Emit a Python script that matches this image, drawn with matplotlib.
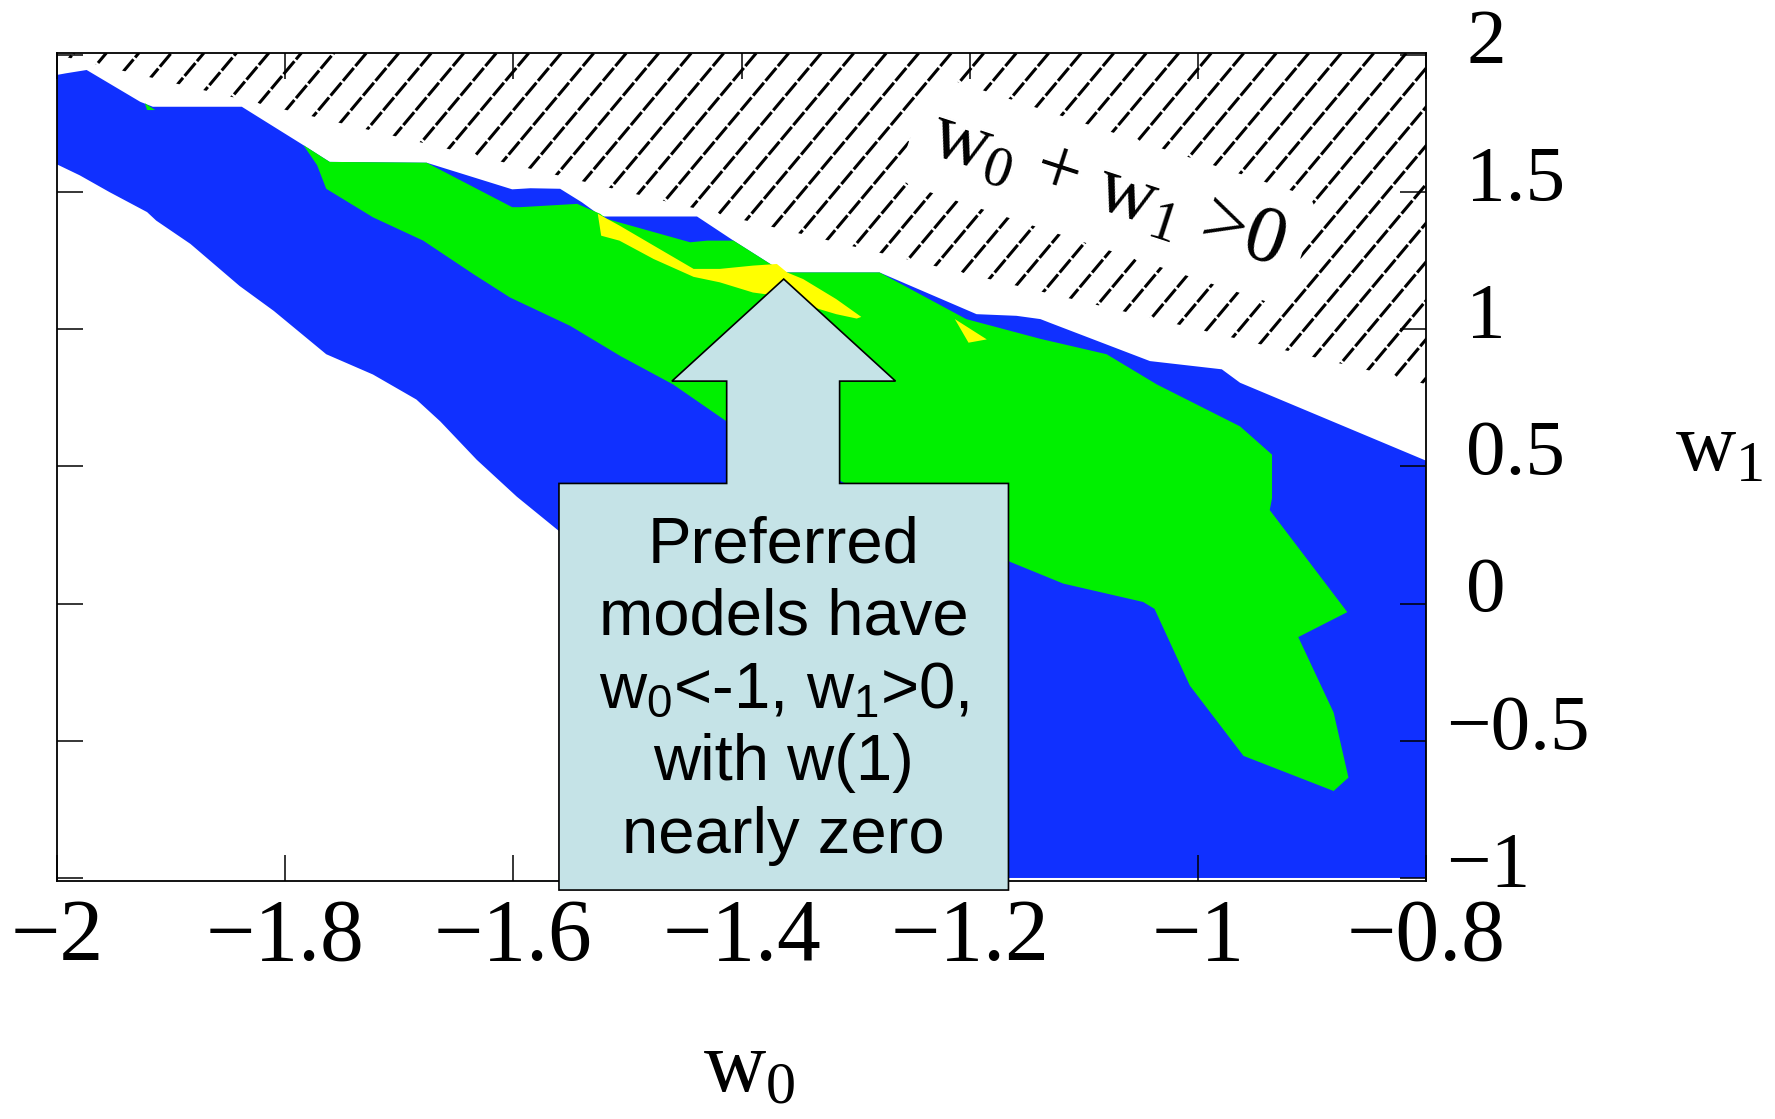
import numpy as np
import matplotlib
matplotlib.use("Agg")
import matplotlib.pyplot as plt
from matplotlib.patches import Polygon
from matplotlib.transforms import ScaledTranslation

plt.rcParams["font.family"] = ["Liberation Serif", "DejaVu Serif"]
plt.rcParams["mathtext.fontset"] = "custom"
plt.rcParams["mathtext.rm"] = "Liberation Serif"
plt.rcParams["mathtext.it"] = "Liberation Serif:italic"

# confidence regions in the (w0, w1) plane
blue_w0 = [-2.000, -1.992, -1.974, -1.927, -1.916, -1.838, -1.784, -1.761, -1.676,
           -1.601, -1.585, -1.559, -1.540, -1.524, -1.520, -1.439, -1.407, -1.363,
           -1.279, -1.194, -1.159, -1.138, -1.130, -1.042, -0.979, -0.963, -0.800,
           -0.800, -1.217, -1.561, -1.597, -1.632, -1.664, -1.685, -1.723, -1.764,
           -1.810, -1.840, -1.883, -1.913, -1.921, -1.954, -1.980, -2.000]
blue_w1 = [1.927, 1.933, 1.945, 1.829, 1.811, 1.811, 1.671, 1.610, 1.607,
           1.510, 1.514, 1.512, 1.463, 1.415, 1.411, 1.411, 1.323, 1.207,
           1.207, 1.055, 1.049, 1.037, 1.024, 0.884, 0.854, 0.805, 0.521,
           -1.000, -1.000, 0.268, 0.390, 0.524, 0.664, 0.744, 0.835, 0.909,
           1.067, 1.158, 1.311, 1.396, 1.427, 1.500, 1.561, 1.601]

green_w0 = [-1.784, -1.761, -1.676, -1.601, -1.594, -1.544, -1.524, -1.518, -1.445,
            -1.430, -1.407, -1.363, -1.279, -1.203, -1.138, -1.080, -1.036, -0.963,
            -0.935, -0.935, -0.937, -0.869, -0.912, -0.881, -0.868, -0.881, -0.960,
            -1.007, -1.038, -1.048, -1.118, -1.168, -1.287, -1.413, -1.460, -1.506,
            -1.550, -1.603, -1.635, -1.679, -1.723, -1.764, -1.772]
green_w1 = [1.671, 1.610, 1.607, 1.445, 1.445, 1.457, 1.421, 1.402, 1.317,
            1.323, 1.323, 1.207, 1.207, 1.037, 0.965, 0.909, 0.799, 0.646,
            0.543, 0.384, 0.341, -0.031, -0.122, -0.397, -0.634, -0.683, -0.555,
            -0.299, -0.019, 0.006, 0.073, 0.158, 0.390, 0.664, 0.799, 0.902,
            1.012, 1.116, 1.201, 1.323, 1.408, 1.512, 1.598]

green_dot_w0 = [-1.923, -1.921, -1.914]
green_dot_w1 = [1.824, 1.799, 1.799]

yellow_w0 = [-1.526, -1.507, -1.477, -1.442, -1.419, -1.390, -1.369, -1.360, -1.346,
             -1.317, -1.295, -1.299, -1.317, -1.346, -1.369, -1.390, -1.419, -1.442,
             -1.477, -1.507, -1.523]
yellow_w1 = [1.421, 1.378, 1.305, 1.220, 1.220, 1.232, 1.238, 1.207, 1.183,
             1.110, 1.045, 1.039, 1.055, 1.091, 1.122, 1.134, 1.171, 1.191,
             1.256, 1.323, 1.341]

yellow_small_w0 = [-1.213, -1.185, -1.201]
yellow_small_w1 = [1.037, 0.963, 0.951]

xticks = [-2.0, -1.8, -1.6, -1.4, -1.2, -1.0, -0.8]
xtick_labels = ["\u22122", "\u22121.8", "\u22121.6", "\u22121.4", "\u22121.2", "\u22121", "\u22120.8"]
yticks = [2.0, 1.5, 1.0, 0.5, 0.0, -0.5, -1.0]
ytick_labels = ["2", "1.5", "1", "0.5", "0", "\u22120.5", "\u22121"]

xmin, xmax = -2.0, -0.8
ymin, ymax = -1.011, 2.008

callout_tip = (-1.363, 1.183)
callout_text = ("Preferred\nmodels have\n"
                "w$_\\mathregular{0}$<-1, w$_\\mathregular{1}$>0,\n"
                "with w(1)\nnearly zero")

BLUE = "#1030ff"
GREEN = "#00f000"
YELLOW = "#ffff00"
CALLOUT = "#c5e3e7"

fig = plt.figure(figsize=(17.75, 11.19), dpi=100)
ax = fig.add_axes([0.0321, 0.2127, 0.7713, 0.7402])
ax.set_xlim(xmin, xmax)
ax.set_ylim(ymin, ymax)

ax.fill(blue_w0, blue_w1, color=BLUE, lw=0, zorder=1)
ax.fill(green_w0, green_w1, color=GREEN, lw=0, zorder=1.1)
ax.fill(green_dot_w0, green_dot_w1, color=GREEN, lw=0, zorder=1.1)
ax.fill(yellow_w0, yellow_w1, color=YELLOW, lw=0, zorder=1.2)
ax.fill(yellow_small_w0, yellow_small_w1, color=YELLOW, lw=0, zorder=1.2)

# excluded region w0 + w1 > 0, dashed diagonal hatching
hatch = Polygon([(xmin, -xmin), (xmax, -xmax), (xmax, ymax), (xmin, ymax)],
                closed=True, fill=False, lw=0)
ax.add_patch(hatch)
fw, fh = fig.get_size_inches() * fig.dpi
pos = ax.get_position()
sx = pos.width * fw / (xmax - xmin)
sy = pos.height * fh / (ymax - ymin)
slope = np.tan(np.radians(50)) * sx / sy
for x0 in np.arange(-1.985, -0.3, 32.5 / sx):
    xs = np.array([x0 - 1.5 / slope, x0])
    ys = ymax + slope * (xs - x0)
    ln, = ax.plot(xs, ys, color="black", lw=2.2, dashes=(5.5, 0.8), zorder=1.5)
    ln.set_clip_path(hatch)

ax.text(-1.079, 1.506, "w$_\\mathit{0}$ + w$_\\mathit{1}$ >0", rotation=-18,
        rotation_mode="anchor", ha="center", va="center", fontsize=58,
        bbox=dict(boxstyle="round,pad=0.25", fc="white", ec="none"), zorder=3)

# callout arrow with text box
tx, ty = callout_tip
shape = [(0, 0), (0.098, -0.372), (0.049, -0.372), (0.049, -0.745),
         (0.197, -0.745), (0.197, -2.227), (-0.197, -2.227), (-0.197, -0.745),
         (-0.050, -0.745), (-0.050, -0.372), (-0.098, -0.372)]
arrow = Polygon([(tx + dx, ty + dy) for dx, dy in shape], closed=True,
                fc=CALLOUT, ec="black", lw=1.2, zorder=5, clip_on=False)
ax.add_patch(arrow)
ax.text(tx, ty - 1.50, callout_text, ha="center", va="center", fontsize=47,
        family=["Liberation Sans", "DejaVu Sans"], linespacing=1.27, zorder=6)

ax.set_xticks(xticks)
ax.set_xticklabels(xtick_labels)
ax.set_yticks(yticks)
ax.set_yticklabels(ytick_labels)
ax.tick_params(axis="both", direction="in", length=19, width=1.1, color="black")
ax.tick_params(axis="x", top=True, bottom=True, labelsize=63, pad=12)
ax.tick_params(axis="y", left=True, right=True, labelleft=False, labelright=True,
               labelsize=57, pad=29)
for tick in ax.yaxis.get_major_ticks():
    lab = tick.label2
    lab.set_horizontalalignment("left")
    lab.set_verticalalignment("center")
    dx = -0.2 if lab.get_text().startswith("\u2212") else 0.0
    lab.set_transform(lab.get_transform() + ScaledTranslation(dx, 0.11, fig.dpi_scale_trans))
for sp in ax.spines.values():
    sp.set_linewidth(1.3)
    sp.set_color("black")

ax.set_xlabel("w$_\\mathregular{0}$", fontsize=62, va="top")
ax.xaxis.set_label_coords(0.506, -0.18)
ax.yaxis.set_label_position("right")
ax.set_ylabel("w$_\\mathregular{1}$", fontsize=60, rotation=0, ha="left", va="center")
ax.yaxis.set_label_coords(1.182, 0.52)

fig.savefig("out.png", dpi=100)
